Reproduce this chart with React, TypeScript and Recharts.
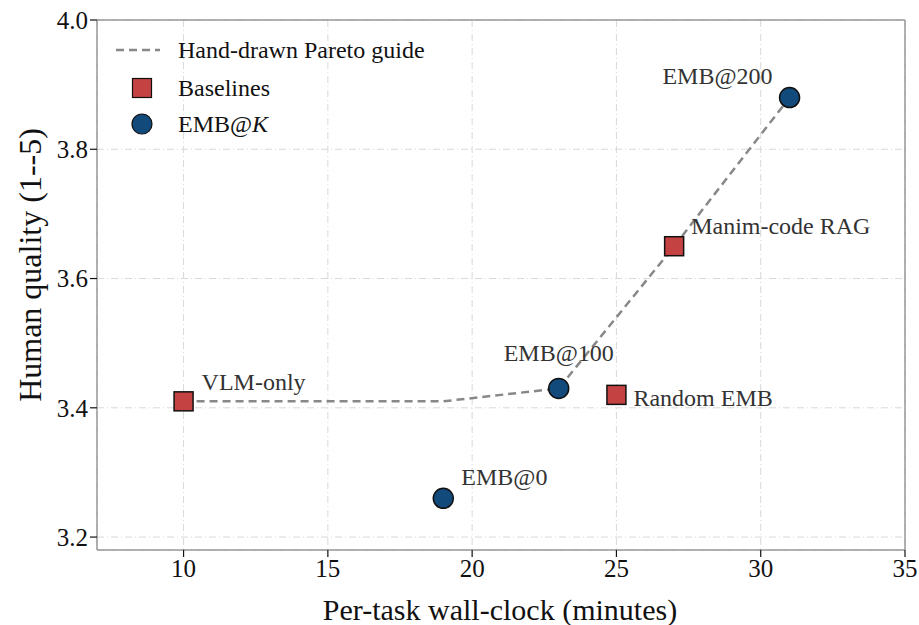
import React from "react";
import {
  ScatterChart,
  Scatter,
  XAxis,
  YAxis,
  CartesianGrid,
  ReferenceLine,
  LabelList,
} from "recharts";

const baselineNames = ["VLM-only", "Random EMB", "Manim-code RAG"];
const baselineMinutes = [10, 25, 27];
const baselineQuality = [3.41, 3.42, 3.65];

const embNames = ["EMB@0", "EMB@100", "EMB@200"];
const embMinutes = [19, 23, 31];
const embQuality = [3.26, 3.43, 3.88];

const guideMinutes = [10, 19, 23, 27, 31];
const guideQuality = [3.41, 3.41, 3.43, 3.65, 3.88];

const xTicks = [10, 15, 20, 25, 30, 35];
const yTicks = [3.2, 3.4, 3.6, 3.8, 4.0];

const RED = "#c44342";
const BLUE = "#124a7b";
const FONT = "'Liberation Serif', 'DejaVu Serif', serif";

const baselines = baselineNames.map((name, i) => ({
  name,
  x: baselineMinutes[i],
  y: baselineQuality[i],
}));
const embs = embNames.map((name, i) => ({
  name,
  x: embMinutes[i],
  y: embQuality[i],
}));
const guide = guideMinutes.map((x, i) => ({ x, y: guideQuality[i] }));

// label placement relative to the marker (dx, dy, anchor)
const labelPos: Record<string, [number, number, string]> = {
  "VLM-only": [18, -19, "start"],
  "Random EMB": [17, 3, "start"],
  "Manim-code RAG": [17, -20, "start"],
  "EMB@0": [18, -21, "start"],
  "EMB@100": [0, -35, "middle"],
  "EMB@200": [-17, -22, "end"],
};

const Square = (props: any) => {
  const { cx, cy } = props;
  return (
    <rect
      x={cx - 9.5}
      y={cy - 9.5}
      width={19}
      height={19}
      fill={RED}
      stroke="#111"
      strokeWidth={1.5}
    />
  );
};

const Dot = (props: any) => {
  const { cx, cy } = props;
  return <circle cx={cx} cy={cy} r={10} fill={BLUE} stroke="#111" strokeWidth={1.5} />;
};

const PointLabel = (props: any) => {
  const { x, y, width, height, value } = props;
  const [dx, dy, anchor] = labelPos[value] || [15, -15, "start"];
  const cx = x + (width || 0) / 2;
  const cy = y + (height || 0) / 2;
  return (
    <text
      x={cx + dx}
      y={cy + dy}
      textAnchor={anchor}
      dominantBaseline="central"
      fontSize={24}
      fontFamily={FONT}
      fill="#333"
    >
      {value}
    </text>
  );
};

const LegendBox = () => (
  <svg width={360} height={120} style={{ fontFamily: FONT, display: "block" }}>
    <line x1={18} y1={20} x2={62} y2={20} stroke="#888" strokeWidth={2.5} strokeDasharray="8 5" />
    <text x={80} y={20} dominantBaseline="central" fontSize={24} fill="#111">
      Hand-drawn Pareto guide
    </text>
    <rect x={34.5} y={48.5} width={19} height={19} fill={RED} stroke="#111" strokeWidth={1.2} />
    <text x={80} y={58} dominantBaseline="central" fontSize={24} fill="#111">
      Baselines
    </text>
    <circle cx={44} cy={94} r={10} fill={BLUE} stroke="#111" strokeWidth={1.2} />
    <text x={80} y={94} dominantBaseline="central" fontSize={24} fill="#111">
      EMB@<tspan fontStyle="italic">K</tspan>
    </text>
  </svg>
);

const YLabel = () => (
  <text
    x={30}
    y={265}
    transform="rotate(-90 30 265)"
    textAnchor="middle"
    dominantBaseline="central"
    fontSize={32}
    fill="#111"
    fontFamily={FONT}
  >
    Human quality (1--5)
  </text>
);

const XLabel = () => (
  <text
    x={500}
    y={609}
    textAnchor="middle"
    dominantBaseline="central"
    fontSize={30}
    fill="#111"
    fontFamily={FONT}
  >
    Per-task wall-clock (minutes)
  </text>
);

export default function App() {
  return (
    <div style={{ position: "absolute", left: 0, top: 0, background: "#fff" }}>
      <ScatterChart
        width={919}
        height={625}
        margin={{ top: 20, right: 14, bottom: 0, left: 0 }}
        style={{ fontFamily: FONT }}
      >
        <CartesianGrid
          stroke="#d9d9d9"
          strokeDasharray="7 3 1 3"
          strokeWidth={1}
        />
        <XAxis
          type="number"
          dataKey="x"
          domain={[7, 35]}
          ticks={xTicks}
          allowDataOverflow
          height={75}
          axisLine={{ stroke: "#999", strokeWidth: 1.5 }}
          tickLine={{ stroke: "#111", strokeWidth: 1.2 }}
          tickSize={7}
          tick={{ fontSize: 25, fill: "#111", fontFamily: FONT }}
          label={<XLabel />}
        />
        <YAxis
          type="number"
          dataKey="y"
          domain={[3.18, 4.0]}
          ticks={yTicks}
          allowDataOverflow
          width={97}
          axisLine={{ stroke: "#999", strokeWidth: 1.5 }}
          tickLine={{ stroke: "#111", strokeWidth: 1.2 }}
          tickSize={7}
          tickFormatter={(v: number) => v.toFixed(1)}
          tick={{ fontSize: 25, fill: "#111", fontFamily: FONT }}
          label={<YLabel />}
        />
        <ReferenceLine x={35} stroke="#999" strokeWidth={1.5} />
        <ReferenceLine y={4.0} stroke="#999" strokeWidth={1.5} />
        <Scatter
          name="Hand-drawn Pareto guide"
          data={guide}
          line={{ stroke: "#888", strokeWidth: 2.5, strokeDasharray: "8 5" }}
          shape={() => <g />}
          isAnimationActive={false}
        />
        <Scatter
          name="Baselines"
          data={baselines}
          shape={Square}
          isAnimationActive={false}
        >
          <LabelList dataKey="name" content={PointLabel} />
        </Scatter>
        <Scatter
          name="EMB@K"
          data={embs}
          shape={Dot}
          isAnimationActive={false}
        >
          <LabelList dataKey="name" content={PointLabel} />
        </Scatter>
      </ScatterChart>
      <div style={{ position: "absolute", left: 98, top: 30 }}>
        <LegendBox />
      </div>
    </div>
  );
}
